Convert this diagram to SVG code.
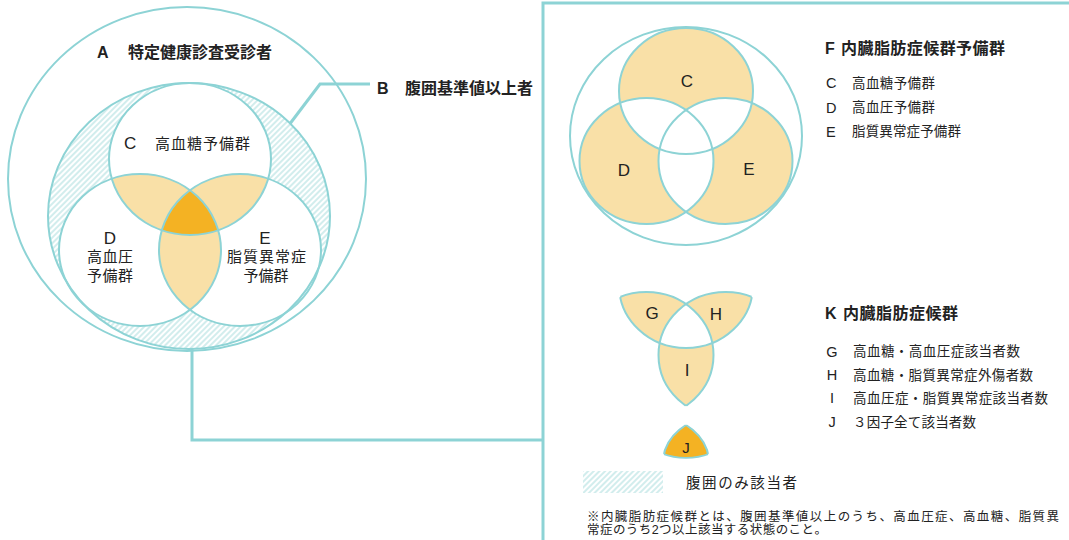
<svg xmlns="http://www.w3.org/2000/svg" width="1069" height="540" viewBox="0 0 1069 540">
<style>
.st{fill:none;stroke:#8dd3d5;stroke-width:2}
.lo{fill:#f9e0a7}
.dk{fill:#f4b223}
.wh{fill:#fff}
.conn{fill:none;stroke:#8dd3d5;stroke-width:3}
.t{font-family:'Liberation Sans','Noto Sans CJK JP',sans-serif;fill:#222}
.b{font-weight:bold;font-size:16px}
.m{font-size:15px}
.L{font-size:17px}
.s{font-size:13.5px}
.sl{font-size:14.5px}
.f{font-size:12.5px}
</style>
<defs>
<pattern id="hatch" patternUnits="userSpaceOnUse" width="4" height="4" patternTransform="rotate(45)">
<rect width="4" height="4" fill="#fff"/>
<line x1="1" y1="0" x2="1" y2="4" stroke="#c4e7e8" stroke-width="1.5"/>
</pattern>
<clipPath id="lC"><ellipse cx="190" cy="159" rx="81" ry="76"/></clipPath>
<clipPath id="lD"><ellipse cx="140" cy="250" rx="81" ry="76"/></clipPath>
<clipPath id="rC"><ellipse cx="686" cy="91" rx="67" ry="63"/></clipPath>
<clipPath id="rD"><ellipse cx="646.5" cy="161" rx="67" ry="63"/></clipPath>
<clipPath id="rE"><ellipse cx="725.5" cy="161" rx="67" ry="63"/></clipPath>
<clipPath id="rDE"><ellipse cx="646.5" cy="161" rx="67" ry="63"/><ellipse cx="725.5" cy="161" rx="67" ry="63"/></clipPath>
<clipPath id="rCE"><ellipse cx="686" cy="91" rx="67" ry="63"/><ellipse cx="725.5" cy="161" rx="67" ry="63"/></clipPath>
<clipPath id="rCD"><ellipse cx="686" cy="91" rx="67" ry="63"/><ellipse cx="646.5" cy="161" rx="67" ry="63"/></clipPath>
</defs>
<rect width="1069" height="540" fill="#fff"/>

<g id="connectors">
<polyline class="conn" points="289,125 320,84 370,84"/>
<polyline class="conn" points="192,290 192,440 543,440"/>
<polyline class="conn" points="543,540 543,3 1069,3"/>
</g>

<g id="node-A">
<ellipse cx="187" cy="179" rx="179" ry="172" class="st"/>
<text class="t b" x="97" y="58">A</text>
<text class="t b" x="128" y="58" textLength="144" lengthAdjust="spacing">特定健康診査受診者</text>
</g>

<g id="node-B">
<ellipse cx="189" cy="216" rx="141" ry="133" fill="url(#hatch)"/>
<text class="t b" x="377" y="94">B</text>
<text class="t b" x="405" y="94" textLength="128" lengthAdjust="spacing">腹囲基準値以上者</text>
</g>

<g id="node-CDE-left">
<ellipse cx="190" cy="159" rx="81" ry="76" class="wh"/>
<ellipse cx="140" cy="250" rx="81" ry="76" class="wh"/>
<ellipse cx="240" cy="250" rx="81" ry="76" class="wh"/>
<g clip-path="url(#lC)">
<ellipse cx="140" cy="250" rx="81" ry="76" class="lo"/>
<ellipse cx="240" cy="250" rx="81" ry="76" class="lo"/>
</g>
<g clip-path="url(#lD)"><ellipse cx="240" cy="250" rx="81" ry="76" class="lo"/></g>
<g clip-path="url(#lC)"><g clip-path="url(#lD)"><ellipse cx="240" cy="250" rx="81" ry="76" class="dk"/></g></g>
<ellipse cx="189" cy="216" rx="141" ry="133" class="st"/>
<ellipse cx="190" cy="159" rx="81" ry="76" class="st"/>
<ellipse cx="140" cy="250" rx="81" ry="76" class="st"/>
<ellipse cx="240" cy="250" rx="81" ry="76" class="st"/>
<text class="t L" x="124" y="149">C</text>
<text class="t m" x="155" y="148.5" textLength="95" lengthAdjust="spacing">高血糖予備群</text>
<text class="t L" x="110" y="244" text-anchor="middle">D</text>
<text class="t m" x="87" y="261.5" textLength="46" lengthAdjust="spacing">高血圧</text>
<text class="t m" x="87" y="280.5" textLength="46" lengthAdjust="spacing">予備群</text>
<text class="t L" x="265" y="244" text-anchor="middle">E</text>
<text class="t m" x="227" y="261.5" textLength="79" lengthAdjust="spacing">脂質異常症</text>
<text class="t m" x="243.5" y="280.5" textLength="45" lengthAdjust="spacing">予備群</text>
</g>

<g id="node-F">
<ellipse cx="686" cy="136" rx="116" ry="109" class="st"/>
<ellipse cx="686" cy="91" rx="67" ry="63" class="lo"/>
<ellipse cx="646.5" cy="161" rx="67" ry="63" class="lo"/>
<ellipse cx="725.5" cy="161" rx="67" ry="63" class="lo"/>
<g clip-path="url(#rC)">
<ellipse cx="646.5" cy="161" rx="67" ry="63" class="wh"/>
<ellipse cx="725.5" cy="161" rx="67" ry="63" class="wh"/>
</g>
<g clip-path="url(#rD)"><ellipse cx="725.5" cy="161" rx="67" ry="63" class="wh"/></g>
<ellipse cx="686" cy="91" rx="67" ry="63" class="st"/>
<ellipse cx="646.5" cy="161" rx="67" ry="63" class="st"/>
<ellipse cx="725.5" cy="161" rx="67" ry="63" class="st"/>
<text class="t L" x="687" y="87" text-anchor="middle">C</text>
<text class="t L" x="624" y="176" text-anchor="middle">D</text>
<text class="t L" x="749" y="175" text-anchor="middle">E</text>
<text class="t b" x="825" y="54">F</text>
<text class="t b" x="841" y="54" textLength="164" lengthAdjust="spacing">内臓脂肪症候群予備群</text>
<text class="t sl" x="826" y="88">C</text>
<text class="t s" x="852" y="87.5" textLength="83" lengthAdjust="spacing">高血糖予備群</text>
<text class="t sl" x="826" y="112.5">D</text>
<text class="t s" x="852" y="112" textLength="83" lengthAdjust="spacing">高血圧予備群</text>
<text class="t sl" x="826" y="136.5">E</text>
<text class="t s" x="852" y="136" textLength="109" lengthAdjust="spacing">脂質異常症予備群</text>
</g>

<g id="node-K">
<g transform="translate(0,194)">
<g clip-path="url(#rC)">
<ellipse cx="646.5" cy="161" rx="67" ry="63" class="lo"/>
<ellipse cx="725.5" cy="161" rx="67" ry="63" class="lo"/>
</g>
<g clip-path="url(#rD)"><ellipse cx="725.5" cy="161" rx="67" ry="63" class="lo"/></g>
<g clip-path="url(#rC)"><g clip-path="url(#rD)"><ellipse cx="725.5" cy="161" rx="67" ry="63" class="wh"/></g></g>
<ellipse cx="686" cy="91" rx="67" ry="63" class="st" clip-path="url(#rDE)"/>
<ellipse cx="646.5" cy="161" rx="67" ry="63" class="st" clip-path="url(#rCE)"/>
<ellipse cx="725.5" cy="161" rx="67" ry="63" class="st" clip-path="url(#rCD)"/>
</g>
<text class="t L" x="652" y="319" text-anchor="middle">G</text>
<text class="t L" x="716" y="320" text-anchor="middle">H</text>
<text class="t L" x="687" y="376" text-anchor="middle">I</text>
<text class="t b" x="825" y="319">K</text>
<text class="t b" x="843" y="319" textLength="115" lengthAdjust="spacing">内臓脂肪症候群</text>
<text class="t sl" x="832" y="356.5" text-anchor="middle">G</text>
<text class="t s" x="853" y="356" textLength="167" lengthAdjust="spacing">高血糖・高血圧症該当者数</text>
<text class="t sl" x="832" y="380" text-anchor="middle">H</text>
<text class="t s" x="853" y="379.5" textLength="180" lengthAdjust="spacing">高血糖・脂質異常症外傷者数</text>
<text class="t sl" x="832" y="403" text-anchor="middle">I</text>
<text class="t s" x="853" y="402.5" textLength="195" lengthAdjust="spacing">高血圧症・脂質異常症該当者数</text>
<text class="t sl" x="832" y="427" text-anchor="middle">J</text>
<text class="t s" x="853" y="426.5" textLength="123" lengthAdjust="spacing">３因子全て該当者数</text>
</g>

<g id="node-J">
<g transform="translate(686,425) scale(0.84,0.75) translate(-686,-110.1)">
<g clip-path="url(#rC)"><g clip-path="url(#rD)"><ellipse cx="725.5" cy="161" rx="67" ry="63" class="dk"/></g></g>
<g clip-path="url(#rD)"><ellipse cx="686" cy="91" rx="67" ry="63" class="st" style="stroke-width:2.4" clip-path="url(#rE)"/></g>
<g clip-path="url(#rC)"><ellipse cx="646.5" cy="161" rx="67" ry="63" class="st" style="stroke-width:2.4" clip-path="url(#rE)"/></g>
<g clip-path="url(#rC)"><ellipse cx="725.5" cy="161" rx="67" ry="63" class="st" style="stroke-width:2.4" clip-path="url(#rD)"/></g>
</g>
<text class="t m" x="686" y="453" text-anchor="middle">J</text>
</g>

<g id="legend">
<rect x="583" y="471" width="80" height="22" fill="url(#hatch)"/>
<text class="t" font-size="14.5" x="686" y="487.5" textLength="111" lengthAdjust="spacing">腹囲のみ該当者</text>
</g>

<g id="note">
<text class="t f" x="587" y="520.5" textLength="472" lengthAdjust="spacing">※内臓脂肪症候群とは、腹囲基準値以上のうち、高血圧症、高血糖、脂質異</text>
<text class="t f" x="587" y="534" textLength="240" lengthAdjust="spacing">常症のうち2つ以上該当する状態のこと。</text>
</g>
</svg>
